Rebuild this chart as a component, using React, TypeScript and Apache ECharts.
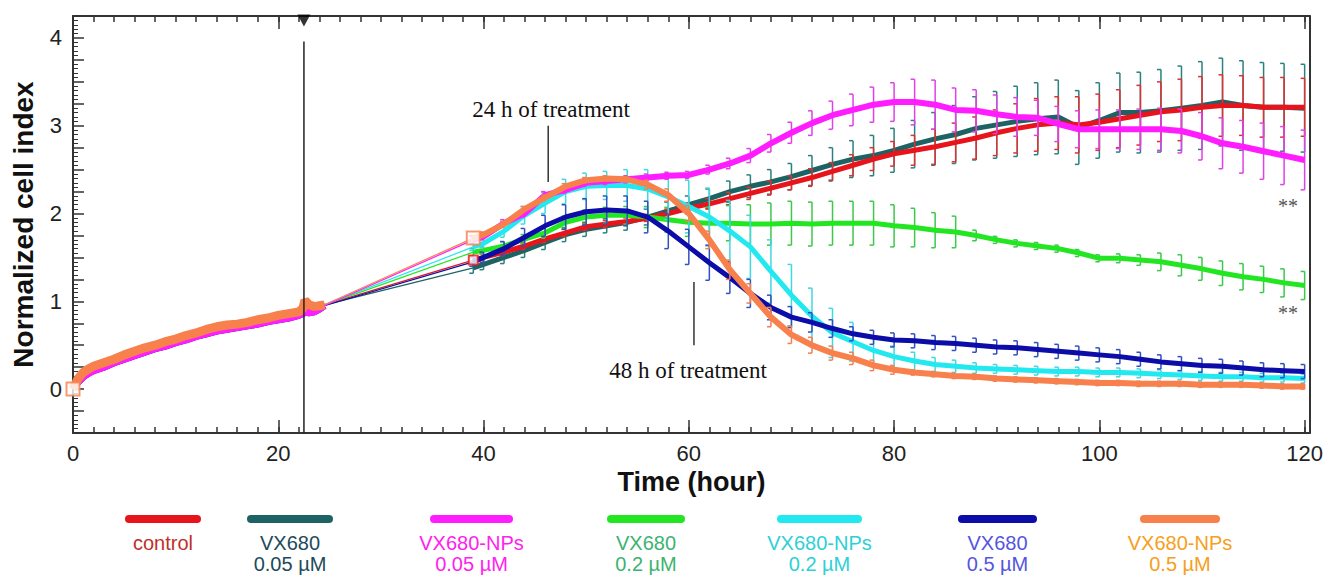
import React, { useEffect, useRef } from 'react';
import * as echarts from 'echarts';

// ---------- data ----------
// phase 1 (before treatment), hours
const P1_T = [0, 0.5, 1, 1.5, 2, 3, 4, 5, 6, 7, 8, 9, 10, 11, 12, 13, 14, 15, 16, 17, 18, 19, 20, 21, 22, 22.4];
const P1_UPPER = [0, 0.12, 0.19, 0.23, 0.26, 0.3, 0.34, 0.39, 0.43, 0.47, 0.5, 0.54, 0.57, 0.61, 0.64, 0.68, 0.71, 0.73, 0.74, 0.76, 0.79, 0.81, 0.84, 0.86, 0.88, 0.92];
const P1_LOWER = [0.03, 0.08, 0.14, 0.18, 0.21, 0.25, 0.3, 0.34, 0.38, 0.42, 0.46, 0.49, 0.53, 0.56, 0.6, 0.63, 0.66, 0.68, 0.7, 0.72, 0.74, 0.77, 0.79, 0.81, 0.84, 0.86];
// phase 2 (right after treatment)
const P2_T = [22.6, 23, 23.5, 24, 24.5];
const P2_UPPER = [1.01, 0.96, 0.94, 0.95, 0.96];
const P2_LOWER = [0.88, 0.87, 0.88, 0.91, 0.95];
// phase 3 (39 h onward)
const T3 = [39, 40, 42, 44, 46, 48, 50, 52, 54, 56, 58, 60, 62, 64, 66, 68, 70, 72, 74, 76, 78, 80, 82, 84, 86, 88, 90, 92, 94, 96, 98, 100, 102, 104, 106, 108, 110, 112, 114, 116, 118, 120];

const CONTROL = [1.47, 1.5, 1.56, 1.63, 1.71, 1.78, 1.85, 1.88, 1.91, 1.95, 2.0, 2.06, 2.11, 2.17, 2.23, 2.29, 2.35, 2.41, 2.48, 2.55, 2.62, 2.68, 2.72, 2.76, 2.81, 2.86, 2.92, 2.97, 3.01, 3.03, 3.01, 3.04, 3.08, 3.12, 3.16, 3.18, 3.21, 3.23, 3.23, 3.21, 3.21, 3.21];
const CONTROL_ERR = [0.04, 0.04, 0.04, 0.04, 0.04, 0.04, 0.04, 0.04, 0.04, 0.04, 0.05, 0.06, 0.06, 0.07, 0.07, 0.08, 0.08, 0.1, 0.1, 0.12, 0.13, 0.14, 0.17, 0.2, 0.22, 0.24, 0.26, 0.28, 0.3, 0.3, 0.32, 0.32, 0.33, 0.34, 0.34, 0.35, 0.35, 0.35, 0.34, 0.34, 0.34, 0.33];

const VX005 = [1.38, 1.42, 1.5, 1.58, 1.67, 1.76, 1.82, 1.86, 1.9, 1.96, 2.03, 2.1, 2.17, 2.25, 2.31, 2.36, 2.42, 2.49, 2.56, 2.62, 2.66, 2.72, 2.79, 2.85, 2.9, 2.97, 3.01, 3.05, 3.08, 3.1, 2.98, 3.06, 3.15, 3.15, 3.17, 3.2, 3.23, 3.27, 3.23, 3.21, 3.21, 3.2];
const VX005_ERR = [0.06, 0.06, 0.07, 0.08, 0.08, 0.08, 0.08, 0.08, 0.09, 0.09, 0.1, 0.1, 0.11, 0.12, 0.13, 0.14, 0.15, 0.17, 0.19, 0.21, 0.23, 0.25, 0.27, 0.3, 0.33, 0.36, 0.38, 0.4, 0.41, 0.42, 0.42, 0.43, 0.45, 0.46, 0.47, 0.48, 0.5, 0.5, 0.51, 0.51, 0.5, 0.5];

const NP005 = [1.7, 1.74, 1.89, 2.0, 2.21, 2.27, 2.35, 2.37, 2.39, 2.41, 2.43, 2.44, 2.5, 2.57, 2.66, 2.8, 2.92, 3.03, 3.12, 3.18, 3.24, 3.27, 3.27, 3.24, 3.18, 3.17, 3.13, 3.1, 3.09, 3.02, 2.96, 2.96, 2.96, 2.96, 2.96, 2.94, 2.88, 2.8, 2.76, 2.71, 2.66, 2.61];
const NP005_ERR = [0.04, 0.04, 0.04, 0.04, 0.04, 0.04, 0.04, 0.04, 0.04, 0.04, 0.04, 0.04, 0.05, 0.06, 0.08, 0.1, 0.12, 0.14, 0.16, 0.18, 0.2, 0.22, 0.26, 0.28, 0.25, 0.24, 0.22, 0.22, 0.2, 0.2, 0.21, 0.22, 0.22, 0.23, 0.24, 0.25, 0.27, 0.29, 0.3, 0.32, 0.33, 0.34];

const VX02 = [1.56, 1.58, 1.63, 1.71, 1.78, 1.9, 1.96, 1.98, 1.98, 1.96, 1.93, 1.9, 1.89, 1.89, 1.88, 1.88, 1.89, 1.88, 1.89, 1.89, 1.89, 1.86, 1.84, 1.81, 1.79, 1.75, 1.7, 1.66, 1.63, 1.6, 1.55, 1.49, 1.49, 1.47, 1.45, 1.41, 1.37, 1.32, 1.28, 1.25, 1.21, 1.18];
const VX02_ERR = [0.04, 0.04, 0.05, 0.05, 0.06, 0.07, 0.08, 0.09, 0.1, 0.12, 0.14, 0.16, 0.18, 0.2, 0.22, 0.24, 0.25, 0.25, 0.25, 0.25, 0.25, 0.24, 0.22, 0.2, 0.18, 0.06, 0.04, 0.04, 0.04, 0.04, 0.04, 0.04, 0.05, 0.06, 0.1, 0.12, 0.13, 0.14, 0.15, 0.15, 0.16, 0.16];

const NP02 = [1.62, 1.66, 1.8, 1.98, 2.12, 2.25, 2.31, 2.32, 2.32, 2.28, 2.19, 2.08, 1.96, 1.8, 1.62, 1.34, 1.07, 0.83, 0.64, 0.54, 0.44, 0.37, 0.32, 0.28, 0.26, 0.24, 0.23, 0.22, 0.21, 0.2, 0.2, 0.19, 0.19, 0.18, 0.17, 0.16, 0.15, 0.14, 0.14, 0.13, 0.13, 0.12];
const NP02_ERR = [0.04, 0.05, 0.07, 0.1, 0.12, 0.14, 0.15, 0.16, 0.18, 0.22, 0.26, 0.3, 0.33, 0.35, 0.36, 0.36, 0.35, 0.32, 0.28, 0.22, 0.17, 0.12, 0.1, 0.08, 0.07, 0.06, 0.05, 0.05, 0.05, 0.05, 0.05, 0.05, 0.05, 0.05, 0.05, 0.05, 0.05, 0.05, 0.05, 0.05, 0.05, 0.05];

const VX05 = [1.45, 1.5, 1.6, 1.73, 1.86, 1.96, 2.02, 2.04, 2.03, 1.96, 1.8, 1.62, 1.44, 1.27, 1.09, 0.93, 0.82, 0.76, 0.69, 0.63, 0.59, 0.56, 0.55, 0.53, 0.52, 0.5, 0.48, 0.47, 0.45, 0.43, 0.41, 0.39, 0.37, 0.34, 0.31, 0.29, 0.27, 0.26, 0.24, 0.22, 0.21, 0.2];
const VX05_ERR = [0.05, 0.06, 0.08, 0.1, 0.12, 0.14, 0.15, 0.16, 0.17, 0.18, 0.2, 0.2, 0.2, 0.18, 0.16, 0.14, 0.12, 0.11, 0.1, 0.08, 0.08, 0.08, 0.08, 0.08, 0.08, 0.08, 0.08, 0.08, 0.08, 0.08, 0.08, 0.08, 0.08, 0.08, 0.08, 0.08, 0.08, 0.08, 0.08, 0.08, 0.08, 0.08];

const NP05 = [1.72, 1.76, 1.88, 2.05, 2.18, 2.31, 2.38, 2.4, 2.39, 2.33, 2.21, 2.0, 1.7, 1.36, 1.09, 0.82, 0.62, 0.5, 0.41, 0.35, 0.27, 0.22, 0.19, 0.17, 0.15, 0.14, 0.12, 0.11, 0.1, 0.09, 0.08, 0.07, 0.07, 0.06, 0.06, 0.06, 0.05, 0.05, 0.05, 0.04, 0.03, 0.03];
const NP05_ERR = [0.03, 0.03, 0.03, 0.03, 0.03, 0.03, 0.03, 0.03, 0.03, 0.05, 0.07, 0.09, 0.1, 0.11, 0.11, 0.11, 0.1, 0.09, 0.08, 0.07, 0.06, 0.05, 0.03, 0.03, 0.03, 0.03, 0.03, 0.03, 0.03, 0.03, 0.03, 0.03, 0.03, 0.03, 0.03, 0.03, 0.03, 0.03, 0.03, 0.03, 0.03, 0.03];

const X_TICK_LABELS = [0, 20, 40, 60, 80, 100, 120];
const Y_TICK_LABELS = [0, 1, 2, 3, 4];
const TREATMENT_T = 22.5;
const LEGEND_LINE1 = ['control', 'VX680', 'VX680-NPs', 'VX680', 'VX680-NPs', 'VX680', 'VX680-NPs'];
const LEGEND_LINE2 = ['', '0.05 µM', '0.05 µM', '0.2 µM', '0.2 µM', '0.5 µM', '0.5 µM'];

// ---------- styles ----------
const SANS = '"Liberation Sans", Arial, sans-serif';
const SERIF = '"Liberation Serif", "Times New Roman", serif';

type Group = {
  id: string; color: string; bar: string; text: string;
  p1: number[]; p2: number[]; vals: number[]; err: number[]; width: number; p1width: number;
};

// draw order: bottom first
const GROUPS: Group[] = [
  { id: 'vx005', color: '#1d6363', bar: '#2a8080', text: '#1d4a5a', p1: P1_UPPER, p2: P2_UPPER, vals: VX005, err: VX005_ERR, width: 5, p1width: 6 },
  { id: 'control', color: '#e8141c', bar: '#e03030', text: '#c0302a', p1: P1_UPPER, p2: P2_UPPER, vals: CONTROL, err: CONTROL_ERR, width: 5, p1width: 7 },
  { id: 'vx02', color: '#22e622', bar: '#3cc84a', text: '#3cb371', p1: P1_UPPER, p2: P2_UPPER, vals: VX02, err: VX02_ERR, width: 5, p1width: 6 },
  { id: 'np02', color: '#22e8f0', bar: '#3fd8e0', text: '#2ed0d5', p1: P1_UPPER, p2: P2_UPPER, vals: NP02, err: NP02_ERR, width: 5, p1width: 6 },
  { id: 'vx05', color: '#0c0ca8', bar: '#3050c0', text: '#5555e0', p1: P1_LOWER, p2: P2_LOWER, vals: VX05, err: VX05_ERR, width: 5, p1width: 7 },
  { id: 'np005', color: '#ff1cff', bar: '#e040e8', text: '#ff22ee', p1: P1_LOWER, p2: P2_LOWER, vals: NP005, err: NP005_ERR, width: 6, p1width: 7 },
  { id: 'np05', color: '#f7804c', bar: '#f08050', text: '#f5a020', p1: P1_UPPER, p2: P2_UPPER, vals: NP05, err: NP05_ERR, width: 6, p1width: 9 },
];
// legend order (left to right)
const LEGEND_ORDER = ['control', 'vx005', 'np005', 'vx02', 'np02', 'vx05', 'np05'];
const LEGEND_X = [125, 247, 430, 607, 777, 958, 1140];
const LEGEND_W = [76, 86, 83, 78, 85, 79, 80];

const pairs = (ts: number[], vs: number[]) => ts.map((t, i) => [t, vs[i]]);

function buildOption(): any {
  const series: any[] = [];
  GROUPS.forEach((g, gi) => {
    const z = 2 + gi;
    series.push({
      type: 'line', name: g.id + '-p12', data: pairs([...P1_T, ...P2_T], [...g.p1, ...g.p2]),
      showSymbol: false, symbol: 'none', z, lineStyle: { color: g.color, width: g.p1width }, silent: true,
    });
    series.push({
      type: 'line', name: g.id + '-gap',
      data: [[P2_T[P2_T.length - 1], g.p2[g.p2.length - 1]], [T3[0], g.vals[0]]],
      symbol: 'none', z, lineStyle: { color: g.color, width: 1.2 }, silent: true,
    });
    series.push({
      type: 'custom', name: g.id + '-err', z,
      data: T3.map((t, i) => [t, g.vals[i] - g.err[i], g.vals[i] + g.err[i]]),
      encode: { x: 0, y: [1, 2] },
      renderItem: (_p: any, api: any) => {
        const x = api.value(0);
        const lo = api.coord([x, api.value(1)]);
        const hi = api.coord([x, api.value(2)]);
        const st = { stroke: g.bar, lineWidth: 1.5 };
        return {
          type: 'group',
          children: [
            { type: 'line', shape: { x1: lo[0], y1: lo[1], x2: hi[0], y2: hi[1] }, style: st },
            { type: 'line', shape: { x1: hi[0] - 4, y1: hi[1], x2: hi[0], y2: hi[1] }, style: st },
            { type: 'line', shape: { x1: lo[0] - 4, y1: lo[1], x2: lo[0], y2: lo[1] }, style: st },
          ],
        };
      },
      silent: true,
    });
    series.push({
      type: 'line', name: g.id, data: pairs(T3, g.vals), symbol: 'none', z,
      lineStyle: { color: g.color, width: g.width }, silent: true,
    });
  });

  const orange = GROUPS.find((g) => g.id === 'np05')!;
  const red = GROUPS.find((g) => g.id === 'control')!;
  series.push({
    type: 'scatter', symbol: 'rect', symbolSize: 13, z: 20,
    data: [[P1_T[0], P1_UPPER[0]], [T3[0], orange.vals[0]]],
    itemStyle: { color: '#ffffff', borderColor: orange.color, borderWidth: 2 }, silent: true,
  });
  series.push({
    type: 'scatter', symbol: 'rect', symbolSize: 9, z: 19,
    data: [[T3[0], red.vals[0]]],
    itemStyle: { color: '#ffffff', borderColor: red.color, borderWidth: 2 }, silent: true,
  });
  // treatment line and marker
  series.push({
    type: 'line', data: [[TREATMENT_T, 3.96], [TREATMENT_T, -0.5]], symbol: 'none', z: 30,
    lineStyle: { color: '#222', width: 1.5 }, silent: true,
  });
  series.push({
    type: 'scatter', data: [[TREATMENT_T, 4.2]], symbol: 'triangle', symbolRotate: 180, symbolSize: [13, 12],
    itemStyle: { color: '#000' }, z: 31, silent: true, clip: false,
  });
  // annotation pointers
  series.push({
    type: 'line', data: [[46.3, 3.0], [46.3, 2.36]], symbol: 'none', z: 30,
    lineStyle: { color: '#333', width: 1.5 }, silent: true,
  });
  series.push({
    type: 'line', data: [[60.5, 1.22], [60.5, 0.5]], symbol: 'none', z: 30,
    lineStyle: { color: '#333', width: 1.5 }, silent: true,
  });

  const axisLineStyle = { color: '#333', width: 2 };
  const tickStyle = { color: '#333', width: 1.5 };
  const xBase = { type: 'value', min: 0, max: 120.5, splitLine: { show: false } };
  const yBase = { type: 'value', min: -0.5, max: 4.25, splitLine: { show: false } };

  const legendGraphics: any[] = [];
  LEGEND_ORDER.forEach((id, i) => {
    const g = GROUPS.find((gg) => gg.id === id)!;
    const x = LEGEND_X[i];
    const w = LEGEND_W[i];
    const cx = x + w / 2;
    legendGraphics.push({
      type: 'rect', shape: { x, y: 515, width: w, height: 8, r: 4 }, style: { fill: g.color }, silent: true,
    });
    legendGraphics.push({
      type: 'text', x: cx, y: 543,
      style: { text: LEGEND_LINE1[i], fill: g.text, font: `20px ${SANS}`, textAlign: 'center', textVerticalAlign: 'middle' },
      silent: true,
    });
    if (LEGEND_LINE2[i]) {
      legendGraphics.push({
        type: 'text', x: cx, y: 564,
        style: { text: LEGEND_LINE2[i], fill: g.text, font: `20px ${SANS}`, textAlign: 'center', textVerticalAlign: 'middle' },
        silent: true,
      });
    }
  });

  return {
    animation: false,
    backgroundColor: '#ffffff',
    grid: { left: 73, right: 16, top: 16, bottom: 142 },
    xAxis: [
      {
        ...xBase, position: 'bottom', interval: 2,
        axisLine: { show: true, onZero: false, lineStyle: axisLineStyle },
        axisTick: { show: true, inside: true, length: 6, lineStyle: tickStyle },
        axisLabel: {
          formatter: (v: number) => (X_TICK_LABELS.includes(v) ? String(v) : ''),
          fontSize: 22, color: '#222', fontFamily: SANS, margin: 9,
        },
        name: 'Time (hour)', nameLocation: 'middle', nameGap: 35,
        nameTextStyle: { fontSize: 27, fontWeight: 'bold', color: '#111', fontFamily: SANS },
      },
      {
        ...xBase, position: 'bottom', interval: 20,
        axisLine: { show: false, onZero: false }, axisLabel: { show: false },
        axisTick: { show: true, inside: true, length: 13, lineStyle: tickStyle },
      },
      {
        ...xBase, position: 'top', interval: 2,
        axisLine: { show: true, onZero: false, lineStyle: axisLineStyle }, axisLabel: { show: false },
        axisTick: { show: true, inside: true, length: 6, lineStyle: tickStyle },
      },
      {
        ...xBase, position: 'top', interval: 20,
        axisLine: { show: false, onZero: false }, axisLabel: { show: false },
        axisTick: { show: true, inside: true, length: 13, lineStyle: tickStyle },
      },
    ],
    yAxis: [
      {
        ...yBase, position: 'left', interval: 0.25,
        axisLine: { show: true, onZero: false, lineStyle: axisLineStyle },
        axisTick: { show: true, inside: true, length: 11, lineStyle: tickStyle },
        minorTick: { show: true, splitNumber: 5, length: 5, lineStyle: { color: '#333', width: 1 } },
        axisLabel: {
          formatter: (v: number) => (Y_TICK_LABELS.includes(v) ? String(v) : ''),
          fontSize: 22, color: '#222', fontFamily: SANS, margin: 11,
        },
        name: 'Normalized cell index', nameLocation: 'middle', nameGap: 36,
        nameTextStyle: { fontSize: 28, fontWeight: 'bold', color: '#111', fontFamily: SANS },
      },
      {
        ...yBase, position: 'right', interval: 0.25,
        axisLine: { show: true, onZero: false, lineStyle: axisLineStyle },
        axisTick: { show: false }, axisLabel: { show: false },
      },
    ],
    series,
    graphic: [
      {
        type: 'text', x: 551, y: 109,
        style: { text: '24 h of treatment', fill: '#111', font: `23px ${SERIF}`, textAlign: 'center', textVerticalAlign: 'middle' },
        silent: true,
      },
      {
        type: 'text', x: 688, y: 370,
        style: { text: '48 h of treatment', fill: '#111', font: `23px ${SERIF}`, textAlign: 'center', textVerticalAlign: 'middle' },
        silent: true,
      },
      {
        type: 'text', x: 1288, y: 206,
        style: { text: '**', fill: '#555', font: `20px ${SERIF}`, textAlign: 'center', textVerticalAlign: 'middle' },
        silent: true,
      },
      {
        type: 'text', x: 1288, y: 313,
        style: { text: '**', fill: '#555', font: `20px ${SERIF}`, textAlign: 'center', textVerticalAlign: 'middle' },
        silent: true,
      },
      ...legendGraphics,
    ],
  };
}

export default function App() {
  const ref = useRef<HTMLDivElement>(null);
  useEffect(() => {
    if (!ref.current) return;
    const chart = echarts.init(ref.current, undefined, { renderer: 'svg' });
    chart.setOption(buildOption());
    return () => chart.dispose();
  }, []);
  return (
    <div
      ref={ref}
      style={{ position: 'absolute', left: 0, top: 0, width: 1326, height: 575, background: '#fff' }}
    />
  );
}
